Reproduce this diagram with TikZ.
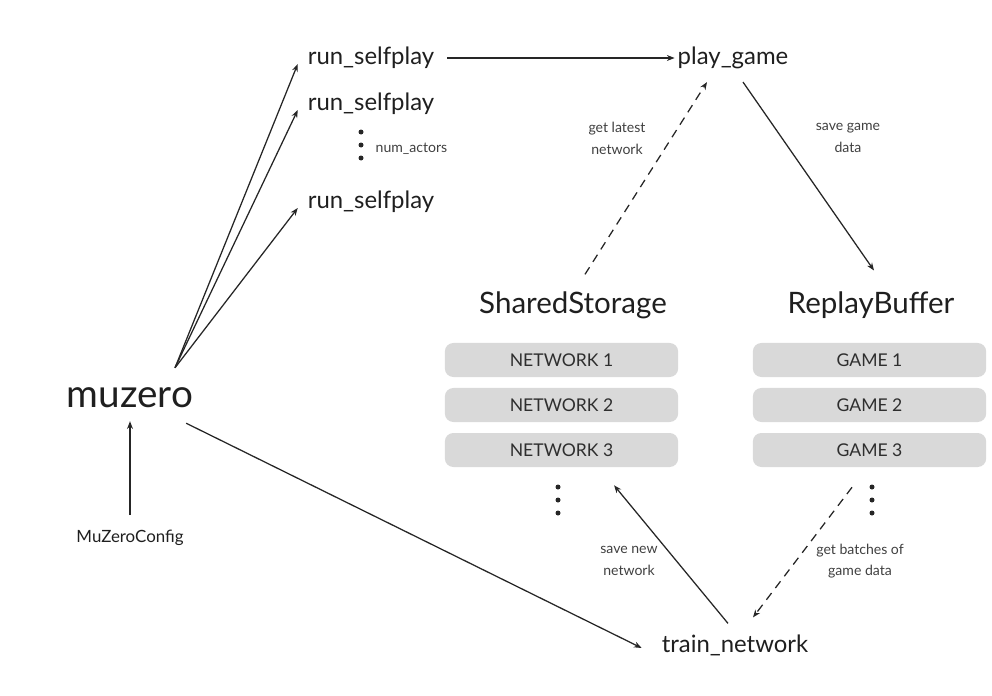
\documentclass[tikz,border=0pt]{standalone}
\usepackage{fontspec}
\setmainfont{Lato}
\usetikzlibrary{arrows.meta,calc}
\begin{document}
\begin{tikzpicture}[x=0.025cm,y=-0.025cm,
    txt/.style={inner sep=2pt,text=black!88},
    fn/.style={txt,font=\fontsize{17}{20}\selectfont},
    small/.style={inner sep=1pt,text=black!75,align=center,font=\fontsize{10}{15.5}\selectfont},
    slot/.style={fill=black!15,rounded corners=6pt,minimum width=5.83cm,minimum height=0.85cm,
        inner sep=0pt,text=black!82,font=\fontsize{12.5}{14}\selectfont},
    arr/.style={-{Stealth[length=5.5pt,width=4.2pt]},line width=0.9pt,draw=black!85},
    dsh/.style={arr,dash pattern=on 6pt off 4.5pt}]
    \useasboundingbox (0,0) rectangle (992,696);

    % Entry point
    \node[txt,font=\fontsize{27.5}{30}\selectfont] (muzero) at (130,398) {muzero};
    \node[txt,font=\fontsize{12}{14}\selectfont] (cfg) at (130,538) {MuZeroConfig};

    % Actors
    \node[fn] (rs1) at (371,58) {run\_selfplay};
    \node[fn] (rs2) at (371,104) {run\_selfplay};
    \node[fn] (rs3) at (371,202) {run\_selfplay};
    \foreach \y in {132,145,158}
        \fill[black!85] (361,\y) circle (2.5);
    \node[small,anchor=west] (nact) at (374,149) {num\_actors};

    \node[fn] (pg) at (733,58) {play\_game};
    \node[fn] (tn) at (735,645) {train\_network};

    % Storage
    \node[txt,font=\fontsize{21}{24}\selectfont] (ss) at (573,305) {SharedStorage};
    \node[txt,font=\fontsize{21}{24}\selectfont] (rb) at (871,305) {ReplayBuffer};
    \foreach \i/\y in {1/360,2/405,3/450} {
        \node[slot] (net\i) at (561.5,\y) {NETWORK \i};
        \node[slot] (game\i) at (869.5,\y) {GAME \i};
    }
    \foreach \y in {487,500,513} {
        \fill[black!85] (558,\y) circle (2.5);
        \fill[black!85] (872,\y) circle (2.5);
    }

    % Labels
    \node[small] (lblget) at (617,138) {get latest\\network};
    \node[small] (lblsave) at (848,138) {save game\\data};
    \node[small] (lblnew) at (629,561) {save new\\network};
    \node[small] (lblbatch) at (860,561) {get batches of\\game data};

    % Connectors
    \foreach \n in {rs1,rs2,rs3}
        \draw[arr] ($(muzero.north)+(45,-17)$) -- ($(\n.west)+(-7,6)$);
    \draw[arr] ($(cfg.north)+(0,-12)$) -- ($(muzero.south)+(0,10)$);
    \draw[arr] ($(muzero.south east)+(-10,12)$) -- ($(tn.west)+(-17,3)$);
    \draw[arr] ($(rs1.east)+(10,0)$) -- (pg.west);
    \draw[arr] ($(pg.south)+(10,10)$) -- ($(rb.north)+(3,-18)$);
    \draw[dsh] ($(ss.north)+(12,-14)$) -- ($(pg.south)+(-26,10)$);
    \draw[arr] ($(tn.north)+(-7,-8)$) -- ($(net3.south)+(52.5,18)$);
    \draw[dsh] ($(game3.south)+(-17.5,20)$) -- ($(tn.north)+(18,-14)$);
\end{tikzpicture}
\end{document}
